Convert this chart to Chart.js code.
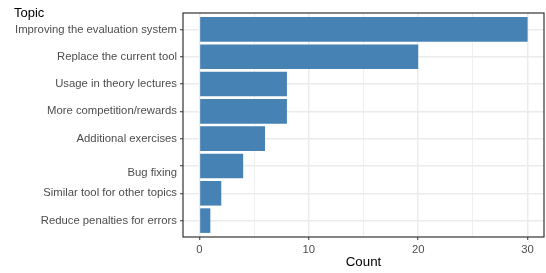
<!DOCTYPE html>
<html>
<head>
<meta charset="utf-8">
<script src="https://cdn.jsdelivr.net/npm/chart.js@4/dist/chart.umd.min.js"></script>
<style>
  html, body { margin: 0; padding: 0; background: #ffffff; }
  #wrap { width: 546px; height: 273px; position: relative; }
</style>
</head>
<body>
<div id="wrap"><canvas id="c" width="546" height="273"></canvas></div>
<script>
const categories = [
  "Improving the evaluation system",
  "Replace the current tool",
  "Usage in theory lectures",
  "More competition/rewards",
  "Additional exercises",
  "\nBug fixing",
  "Similar tool for other topics",
  "Reduce penalties for errors"
];
const counts = [30, 20, 8, 8, 6, 4, 2, 1];
const xTickLabels = [0, 10, 20, 30];
const yTitle = "Topic";
const xTitle = "Count";

const FONT = "'Liberation Sans', Arial, Helvetica, sans-serif";

const topicPlugin = {
  id: 'topicTitle',
  afterDraw(chart) {
    const ctx = chart.ctx;
    ctx.save();
    ctx.font = "13px " + FONT;
    ctx.fillStyle = "#000000";
    ctx.textAlign = "left";
    ctx.textBaseline = "alphabetic";
    ctx.fillText(yTitle, 14, 17);
    ctx.restore();
  }
};

const borderPlugin = {
  id: 'panelBorder',
  afterDatasetsDraw(chart) {
    const a = chart.chartArea;
    const ctx = chart.ctx;
    ctx.save();
    ctx.strokeStyle = "#333333";
    ctx.lineWidth = 1.2;
    ctx.strokeRect(a.left, a.top, a.right - a.left, a.bottom - a.top);
    ctx.restore();
  }
};

new Chart(document.getElementById('c'), {
  type: 'bar',
  data: {
    datasets: [{
      data: counts.map((v, i) => ({ x: v, y: i + 1 })),
      backgroundColor: '#4682B4',
      borderWidth: 0,
      barPercentage: 0.9,
      categoryPercentage: 1.0
    }]
  },
  options: {
    indexAxis: 'y',
    responsive: false,
    animation: false,
    devicePixelRatio: 1,
    layout: { padding: { top: 13, right: 2, left: 0, bottom: 0 } },
    plugins: { legend: { display: false }, tooltip: { enabled: false }, title: { display: false } },
    scales: {
      x: {
        type: 'linear',
        min: -1.5,
        max: 31.5,
        offset: false,
        afterBuildTicks(scale) {
          const t = [];
          for (let v = 0; v <= 30; v += 5) t.push({ value: v });
          scale.ticks = t;
        },
        afterFit(scale) { scale.height = 36; },
        border: { display: false },
        grid: {
          offset: false,
          color: '#EBEBEB',
          lineWidth: (c) => (c.tick && c.tick.value % 10 === 0) ? 1.5 : 0.8,
          tickColor: (c) => (c.tick && c.tick.value % 10 === 0) ? '#333333' : 'rgba(0,0,0,0)',
          tickLength: 3,
          tickWidth: 1
        },
        ticks: {
          autoSkip: false,
          maxRotation: 0,
          padding: 3,
          color: '#4D4D4D',
          font: { family: FONT, size: 11.3 },
          callback: (v) => xTickLabels.includes(v) ? String(v) : ''
        },
        title: {
          display: true,
          text: xTitle,
          color: '#000000',
          font: { family: FONT, size: 13.3 },
          padding: { top: 0, bottom: 3 }
        }
      },
      y: {
        type: 'linear',
        reverse: true,
        offset: false,
        min: 0.4,
        max: categories.length + 0.6,
        afterBuildTicks(scale) {
          scale.ticks = categories.map((_, i) => ({ value: i + 1 }));
        },
        afterFit(scale) { scale.width = 183; },
        border: { display: false },
        grid: {
          offset: false,
          color: '#EBEBEB',
          lineWidth: 1.5,
          tickColor: '#333333',
          tickLength: 3,
          tickWidth: 1
        },
        ticks: {
          autoSkip: false,
          padding: 3,
          color: '#4D4D4D',
          font: { family: FONT, size: 11.3 },
          callback: (v) => {
            const s = categories[Math.round(v) - 1];
            return s.includes('\n') ? s.split('\n') : s;
          }
        }
      }
    }
  },
  plugins: [topicPlugin, borderPlugin]
});
</script>
</body>
</html>
